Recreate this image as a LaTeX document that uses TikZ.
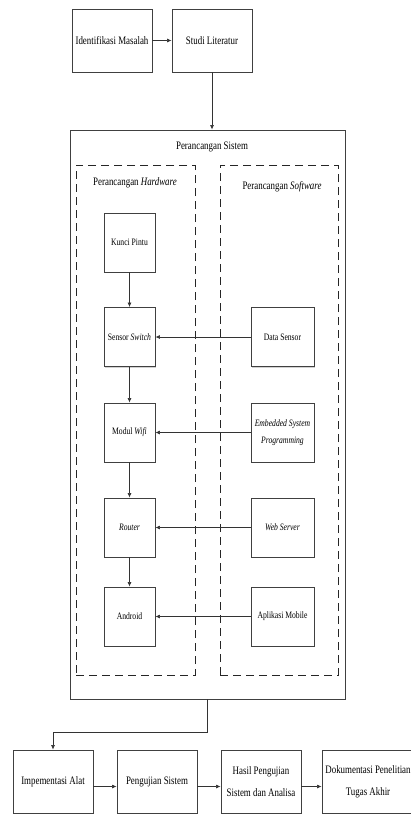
\documentclass[tikz,border=0pt]{standalone}
\usepackage{fontspec}
\setmainfont{Liberation Serif}[FakeStretch=0.78]
\usetikzlibrary{arrows.meta,shadows}
\begin{document}
\begin{tikzpicture}[x=1pt,y=-1pt,
  box/.style={draw=black!75, line width=0.8pt, fill=white,
    drop shadow={shadow xshift=1.2pt,shadow yshift=-1.2pt,fill=black!35},
    inner sep=1pt, align=center, font=\fontsize{11.4}{22}\selectfont},
  smallbox/.style={box, font=\fontsize{9.8}{17}\selectfont},
  dashbox/.style={draw=black!85, line width=0.9pt, dash pattern=on 8pt off 5pt},
  arr/.style={draw=black!80, line width=0.6pt, -{Latex[length=4.5pt,width=3.8pt]}},
  ttl/.style={font=\fontsize{11.4}{13}\selectfont, inner sep=0pt}]
\useasboundingbox (0,0) rectangle (411,814);
\fill[white] (0,0) rectangle (411,814);

% top
\node[box, minimum width=80pt, minimum height=63pt] (idm) at (112,40.5) {Identifikasi Masalah};
\node[box, minimum width=80pt, minimum height=63pt] (stl) at (212,40.5) {Studi Literatur};

% big box
\node[box, minimum width=275pt, minimum height=569pt] (big) at (207.5,414.5) {};
\node[ttl] (tsys) at (212,147) {Perancangan Sistem};

\node[dashbox, minimum width=119pt, minimum height=510pt] (hw) at (135.5,420) {};
\node[dashbox, minimum width=118pt, minimum height=510pt] (sw) at (279,420) {};
\node[ttl] (thw) at (135,183) {Perancangan \textit{Hardware}};
\node[ttl] (tsw) at (282,187) {Perancangan \textit{Software}};

% hardware column
\node[smallbox, minimum width=51pt, minimum height=59pt] (kp) at (129.5,242.5) {Kunci Pintu};
\node[smallbox, minimum width=51pt, minimum height=59pt] (ss) at (129.5,337) {Sensor \textit{Switch}};
\node[smallbox, minimum width=51pt, minimum height=59pt] (mw) at (129.5,432.5) {Modul \textit{Wifi}};
\node[smallbox, minimum width=51pt, minimum height=59pt] (rt) at (129.5,527.5) {\textit{Router}};
\node[smallbox, minimum width=51pt, minimum height=59pt] (an) at (129.5,616.5) {Android};

% software column
\node[smallbox, minimum width=63pt, minimum height=59pt] (ds) at (282.5,337) {Data Sensor};
\node[smallbox, minimum width=63pt, minimum height=59pt] (es) at (282.5,432.5) {\textit{Embedded System}\\\textit{Programming}};
\node[smallbox, minimum width=63pt, minimum height=59pt] (ws) at (282.5,527.5) {\textit{Web Server}};
\node[smallbox, minimum width=63pt, minimum height=59pt] (am) at (282.5,616.5) {Aplikasi Mobile};

% bottom
\node[box, minimum width=80pt, minimum height=63pt] (ia) at (53,781.5) {Impementasi Alat};
\node[box, minimum width=80pt, minimum height=63pt] (ps) at (157,781.5) {Pengujian Sistem};
\node[box, minimum width=80pt, minimum height=63pt] (hs) at (261,781.5) {Hasil Pengujian\\Sistem dan Analisa};
\node[box, minimum width=92pt, minimum height=63pt] (dk) at (368,781.5) {Dokumentasi Penelitian\\Tugas Akhir};

% connectors
\draw[arr] (idm.east) -- (stl.west);
\draw[arr] (stl.south) -- (stl.south |- big.north);
\draw[arr] (kp) -- (ss);
\draw[arr] (ss) -- (mw);
\draw[arr] (mw) -- (rt);
\draw[arr] (rt) -- (an);
\draw[arr] (ds.west) -- (ss.east);
\draw[arr] (es.west) -- (mw.east);
\draw[arr] (ws.west) -- (rt.east);
\draw[arr] (am.west) -- (an.east);
\coordinate (elb) at (0,732);
\draw[arr] (big.south) -- (big.south |- elb) -| (ia.north);
\draw[arr] ([yshift=-5pt]ia.east) -- ([yshift=-5pt]ps.west);
\draw[arr] ([yshift=-5pt]ps.east) -- ([yshift=-5pt]hs.west);
\draw[arr] ([yshift=-5pt]hs.east) -- ([yshift=-5pt]dk.west);
\end{tikzpicture}
\end{document}
